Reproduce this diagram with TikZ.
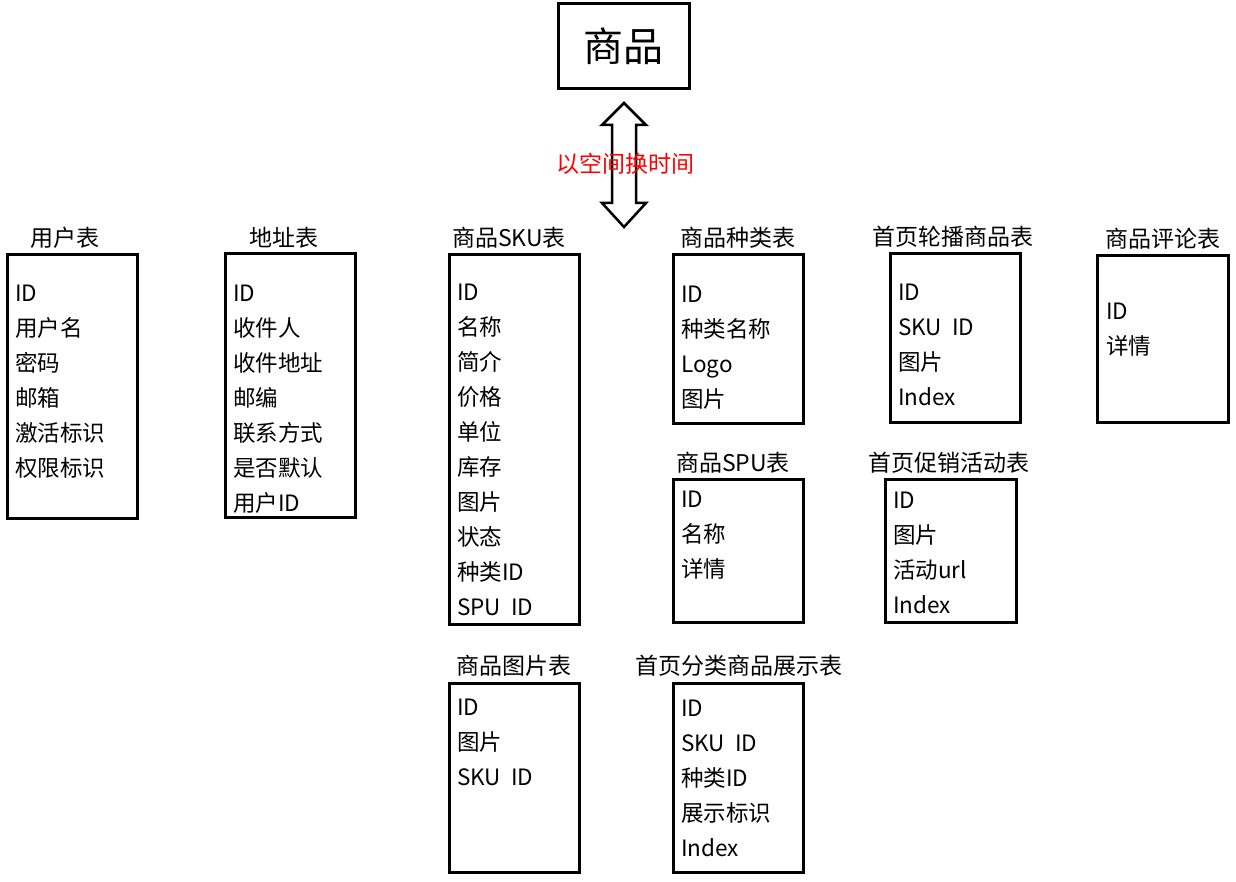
\documentclass[tikz,border=0pt]{standalone}
\usepackage{fontspec}
\setmainfont{Noto Sans CJK SC}
\begin{document}
\begin{tikzpicture}[x=1pt,y=-1pt,
  tbl/.style={draw=black,line width=3pt,inner sep=0pt},
  ttl/.style={font=\fontsize{23}{23}\selectfont,inner sep=0pt,text height=17pt,text depth=5pt,yshift=-2pt},
  field/.style={anchor=west,font=\fontsize{22.5}{22.5}\selectfont,inner sep=0pt,text height=17pt,text depth=5pt,yshift=-2.5pt},
  bigbox/.style={draw=black,line width=3pt,minimum width=131pt,minimum height=85pt,inner sep=0pt,font=\fontsize{40}{40}\selectfont}]
\useasboundingbox (0,0) rectangle (1236,882);
\fill[white] (0,0) rectangle (1236,882);
% top box
\node[bigbox] (goods) at (623.5,46.5) {商品};
% double arrow
\draw[line width=2.5pt,line join=miter,fill=white] (624,103) -- (646,125) -- (636,125) -- (636,203) -- (646,203) -- (624,227) -- (602,203) -- (612,203) -- (612,125) -- (602,125) -- cycle;
\node[text=red,font=\fontsize{23}{23}\selectfont,inner sep=0pt] (label) at (625,164) {以空间换时间};
% 用户表
\node[tbl,minimum width=130pt,minimum height=263pt] (user) at (72,386.5) {};
\node[ttl] (userT) at (65,239) {用户表};
\foreach \t [count=\i] in {ID,用户名,密码,邮箱,激活标识,权限标识}
  \node[field] (user\i) at (15,293+35*\i-35) {\t};
% 地址表
\node[tbl,minimum width=130pt,minimum height=263pt] (addr) at (290,385.5) {};
\node[ttl] (addrT) at (284,239) {地址表};
\foreach \t [count=\i] in {ID,收件人,收件地址,邮编,联系方式,是否默认,用户ID}
  \node[field] (addr\i) at (233,293+35*\i-35) {\t};
% 商品SKU表
\node[tbl,minimum width=130pt,minimum height=369pt] (sku) at (514,439.5) {};
\node[ttl] (skuT) at (509,239) {商品SKU表};
\foreach \t [count=\i] in {ID,名称,简介,价格,单位,库存,图片,状态,种类ID,SPU\ \ ID}
  \node[field] (sku\i) at (457,292+35*\i-35) {\t};
% 商品图片表
\node[tbl,minimum width=130pt,minimum height=189pt] (pic) at (514,777.5) {};
\node[ttl] (picT) at (514,666) {商品图片表};
\foreach \t [count=\i] in {ID,图片,SKU\ \ ID}
  \node[field] (pic\i) at (457,707+35*\i-35) {\t};
% 商品种类表
\node[tbl,minimum width=130pt,minimum height=168pt] (cat) at (738,339) {};
\node[ttl] (catT) at (738,239) {商品种类表};
\foreach \t [count=\i] in {ID,种类名称,Logo,图片}
  \node[field] (cat\i) at (681,294+35*\i-35) {\t};
% 商品SPU表
\node[tbl,minimum width=130pt,minimum height=143pt] (spu) at (738,550.5) {};
\node[ttl] (spuT) at (733,463) {商品SPU表};
\foreach \t [count=\i] in {ID,名称,详情}
  \node[field] (spu\i) at (681,499+35*\i-35) {\t};
% 首页分类商品展示表
\node[tbl,minimum width=130pt,minimum height=189pt] (show) at (738,777.5) {};
\node[ttl] (showT) at (739,666) {首页分类商品展示表};
\foreach \t [count=\i] in {ID,SKU\ \ ID,种类ID,展示标识,Index}
  \node[field] (show\i) at (681,708+35*\i-35) {\t};
% 首页轮播商品表
\node[tbl,minimum width=130pt,minimum height=168pt] (banner) at (955,338) {};
\node[ttl] (bannerT) at (953,238) {首页轮播商品表};
\foreach \t [count=\i] in {ID,SKU\ \ ID,图片,Index}
  \node[field] (banner\i) at (898,292+35*\i-35) {\t};
% 首页促销活动表
\node[tbl,minimum width=131pt,minimum height=143pt] (promo) at (950.5,550.5) {};
\node[ttl] (promoT) at (949,463) {首页促销活动表};
\foreach \t [count=\i] in {ID,图片,活动url,Index}
  \node[field] (promo\i) at (893,500+35*\i-35) {\t};
% 商品评论表
\node[tbl,minimum width=131pt,minimum height=166pt] (cmt) at (1162.5,339) {};
\node[ttl] (cmtT) at (1163,240) {商品评论表};
\foreach \t [count=\i] in {ID,详情}
  \node[field] (cmt\i) at (1106,311+35*\i-35) {\t};
\end{tikzpicture}
\end{document}
